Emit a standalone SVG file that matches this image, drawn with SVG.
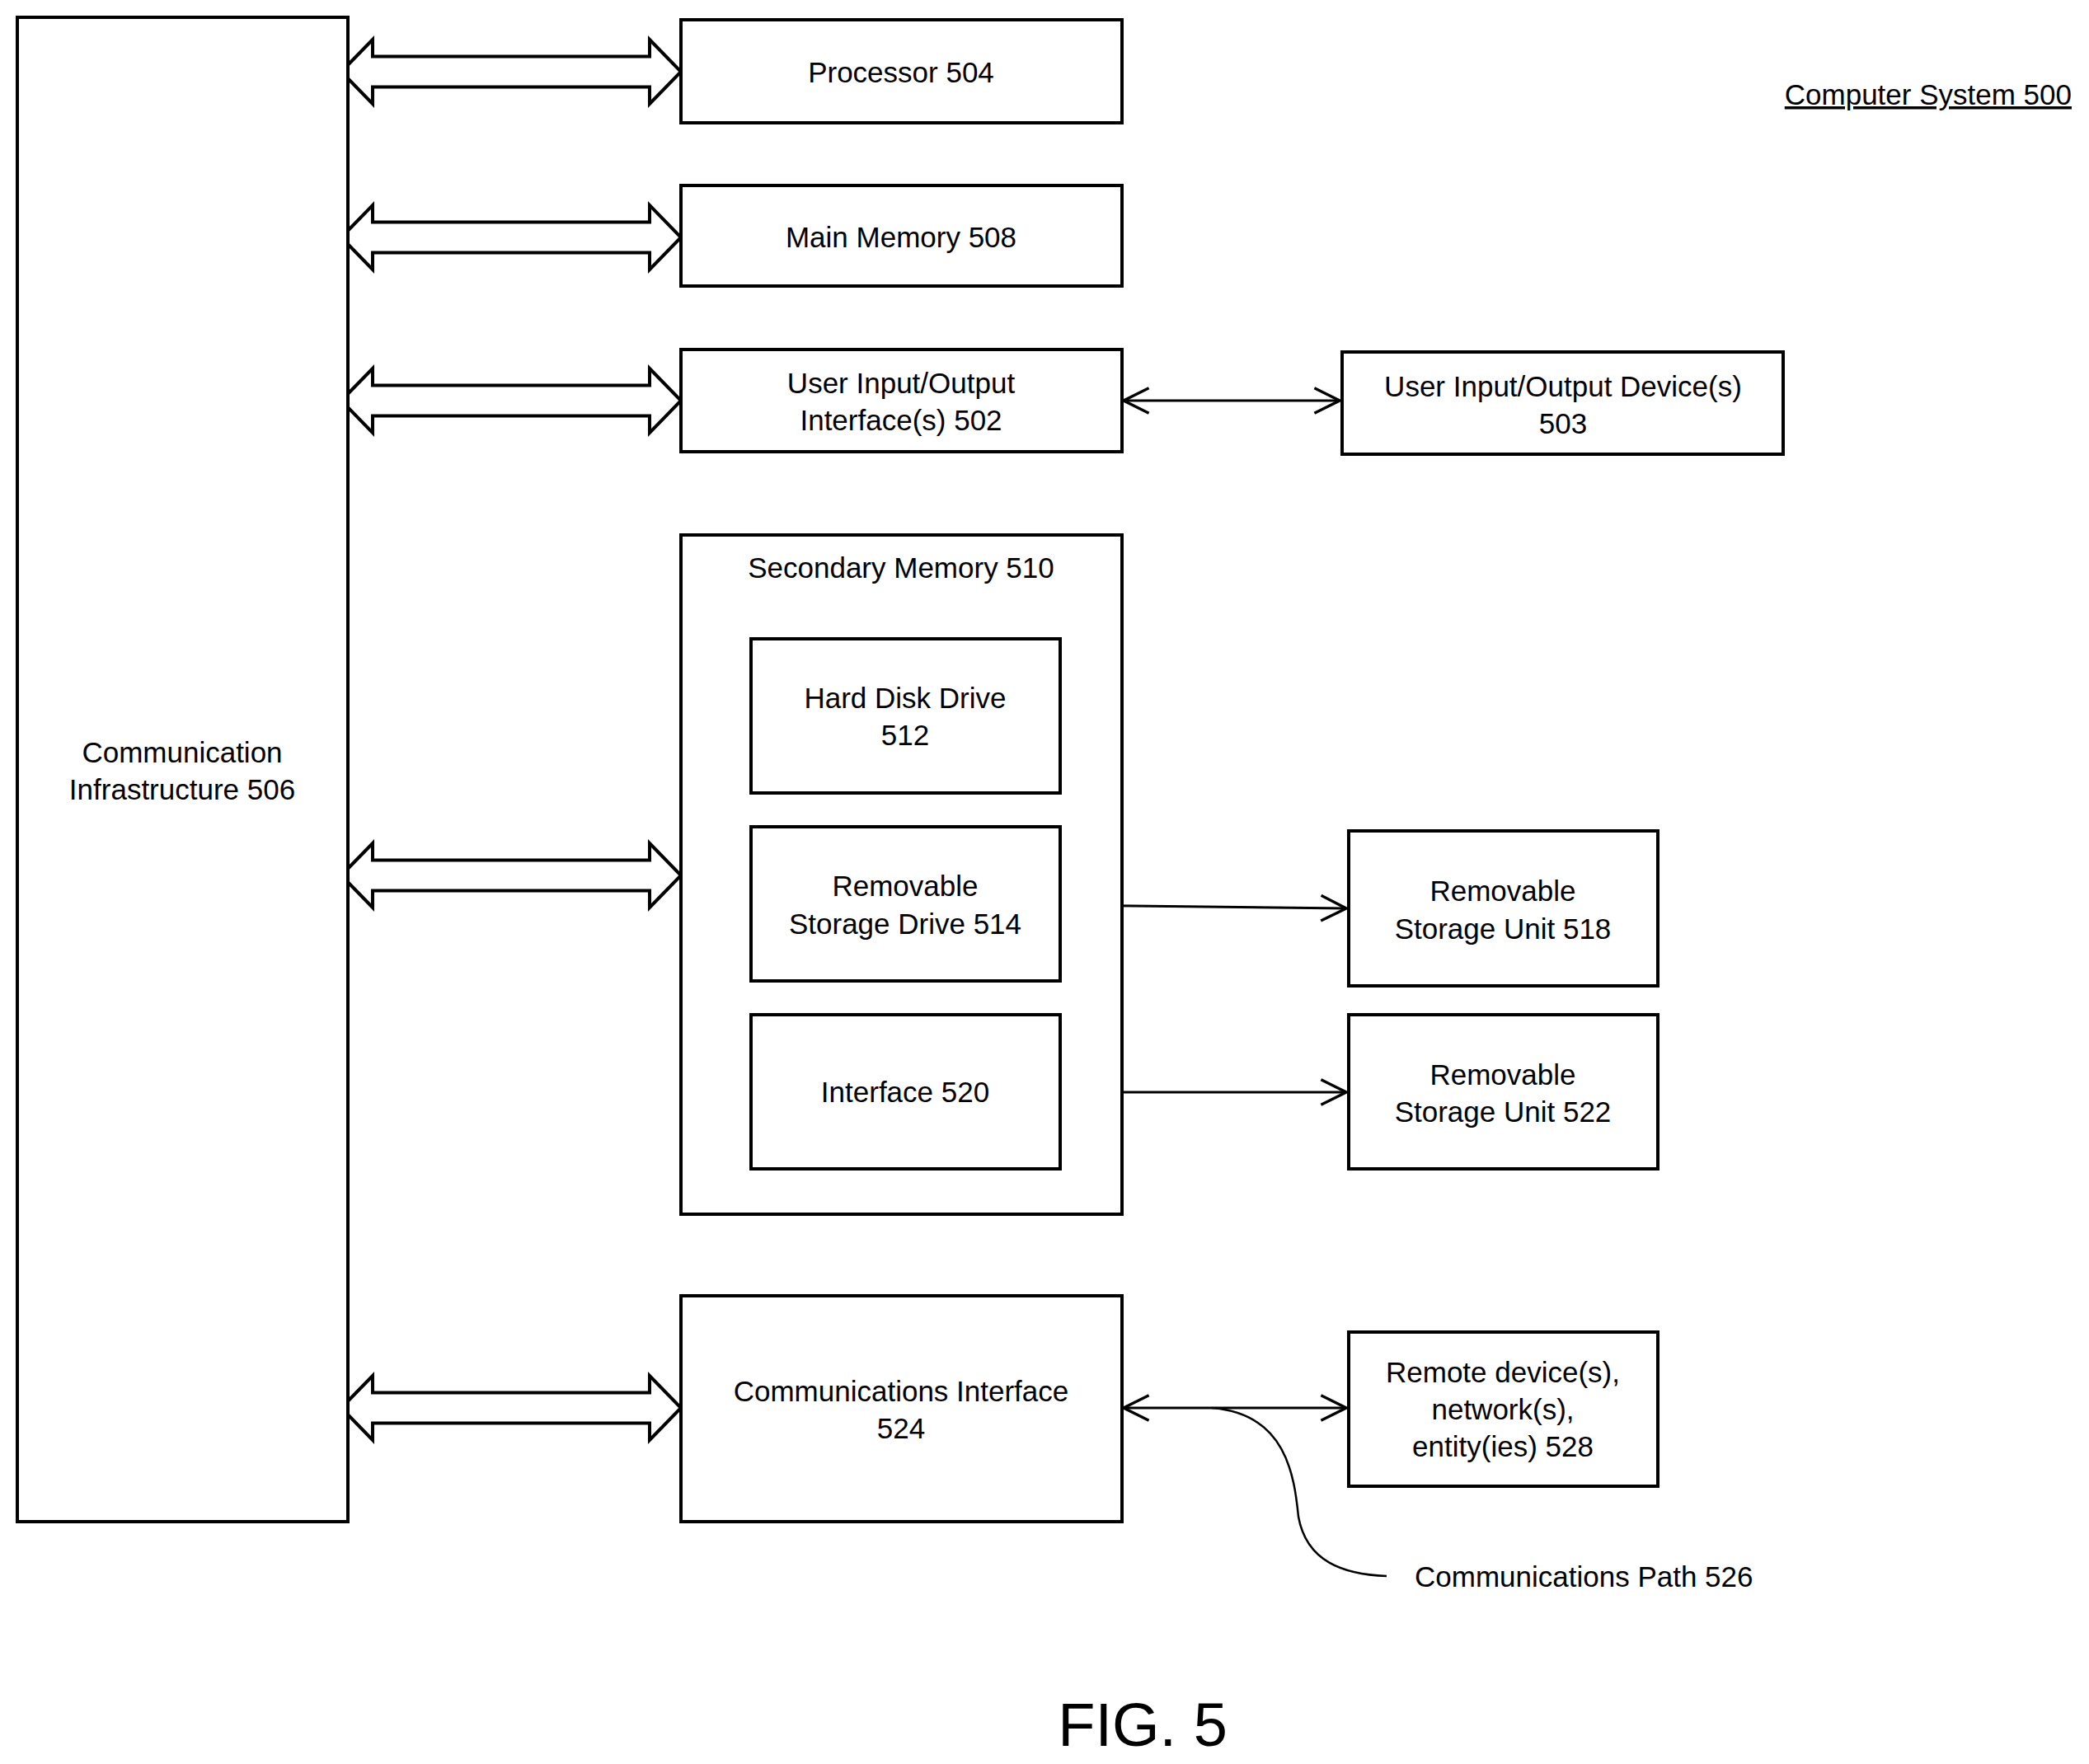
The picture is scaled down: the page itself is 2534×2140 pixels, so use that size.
<svg xmlns="http://www.w3.org/2000/svg" width="2534" height="2140" viewBox="0 0 2534 2140">
<defs>
<style>
.b{fill:#fff;stroke:#000;stroke-width:4}
.t{font-family:"Liberation Sans",Arial,sans-serif;font-size:35px;text-anchor:middle;fill:#000}
.l{fill:none;stroke:#000;stroke-width:3}
.ba{fill:#fff;stroke:#000;stroke-width:4;stroke-linejoin:miter}
</style>
<marker id="ah" viewBox="0 0 20 20" refX="19" refY="10" markerWidth="34" markerHeight="34" markerUnits="userSpaceOnUse" orient="auto-start-reverse"><path d="M1,1 L19,10 L1,19" fill="none" stroke="#000" stroke-width="2"/></marker>
<path id="bar" d="M0,0 L38,-39 L38,-18.5 L374,-18.5 L374,-39 L412,0 L374,39 L374,18.5 L38,18.5 L38,39 Z"/>
</defs>
<rect width="2534" height="2140" fill="#fff"/>
<g id="connectors">
<use href="#bar" x="414" y="87" class="ba"/>
<use href="#bar" x="414" y="288" class="ba"/>
<use href="#bar" x="414" y="486" class="ba"/>
<use href="#bar" x="414" y="1062" class="ba"/>
<use href="#bar" x="414" y="1708" class="ba"/>
<line x1="1363" y1="486" x2="1625" y2="486" class="l" marker-start="url(#ah)" marker-end="url(#ah)"/>
<line x1="1287" y1="1098" x2="1633" y2="1102" class="l" marker-start="url(#ah)" marker-end="url(#ah)"/>
<line x1="1287" y1="1325" x2="1633" y2="1325" class="l" marker-start="url(#ah)" marker-end="url(#ah)"/>
<line x1="1363" y1="1708" x2="1633" y2="1708" class="l" marker-start="url(#ah)" marker-end="url(#ah)"/>
<path d="M1470,1708 C1560,1715 1570,1790 1575,1840 C1585,1895 1630,1910 1682,1912" fill="none" stroke="#000" stroke-width="2.5"/>
</g>
<g id="n506"><rect x="21" y="21" width="401" height="1825" class="b"/><text class="t" x="221" y="925">Communication</text><text class="t" x="221" y="970">Infrastructure 506</text></g>
<g id="n504"><rect x="826" y="24" width="535" height="125" class="b"/><text class="t" x="1093" y="100">Processor 504</text></g>
<g id="n508"><rect x="826" y="225" width="535" height="122" class="b"/><text class="t" x="1093" y="300">Main Memory 508</text></g>
<g id="n502"><rect x="826" y="424" width="535" height="124" class="b"/><text class="t" x="1093" y="477">User Input/Output</text><text class="t" x="1093" y="522">Interface(s) 502</text></g>
<g id="n503"><rect x="1628" y="427" width="535" height="124" class="b"/><text class="t" x="1896" y="481">User Input/Output Device(s)</text><text class="t" x="1896" y="526">503</text></g>
<g id="n510"><rect x="826" y="649" width="535" height="824" class="b"/><text class="t" x="1093" y="701">Secondary Memory 510</text></g>
<g id="n512"><rect x="911" y="775" width="375" height="187" class="b"/><text class="t" x="1098" y="859">Hard Disk Drive</text><text class="t" x="1098" y="904">512</text></g>
<g id="n514"><rect x="911" y="1003" width="375" height="187" class="b"/><text class="t" x="1098" y="1087">Removable</text><text class="t" x="1098" y="1133">Storage Drive 514</text></g>
<g id="n520"><rect x="911" y="1231" width="375" height="187" class="b"/><text class="t" x="1098" y="1337">Interface 520</text></g>
<g id="n518"><rect x="1636" y="1008" width="375" height="188" class="b"/><text class="t" x="1823" y="1093">Removable</text><text class="t" x="1823" y="1139">Storage Unit 518</text></g>
<g id="n522"><rect x="1636" y="1231" width="375" height="187" class="b"/><text class="t" x="1823" y="1316">Removable</text><text class="t" x="1823" y="1361">Storage Unit 522</text></g>
<g id="n524"><rect x="826" y="1572" width="535" height="274" class="b"/><text class="t" x="1093" y="1700">Communications Interface</text><text class="t" x="1093" y="1745">524</text></g>
<g id="n528"><rect x="1636" y="1616" width="375" height="187" class="b"/><text class="t" x="1823" y="1677">Remote device(s),</text><text class="t" x="1823" y="1722">network(s),</text><text class="t" x="1823" y="1767">entity(ies) 528</text></g>
<g id="n526"><text class="t" x="1716" y="1925" style="text-anchor:start">Communications Path 526</text></g>
<g id="n500"><text class="t" x="2513" y="127" style="text-anchor:end;text-decoration:underline">Computer System 500</text></g>
<text class="t" x="1386" y="2118" style="font-size:74px">FIG. 5</text>
</svg>
